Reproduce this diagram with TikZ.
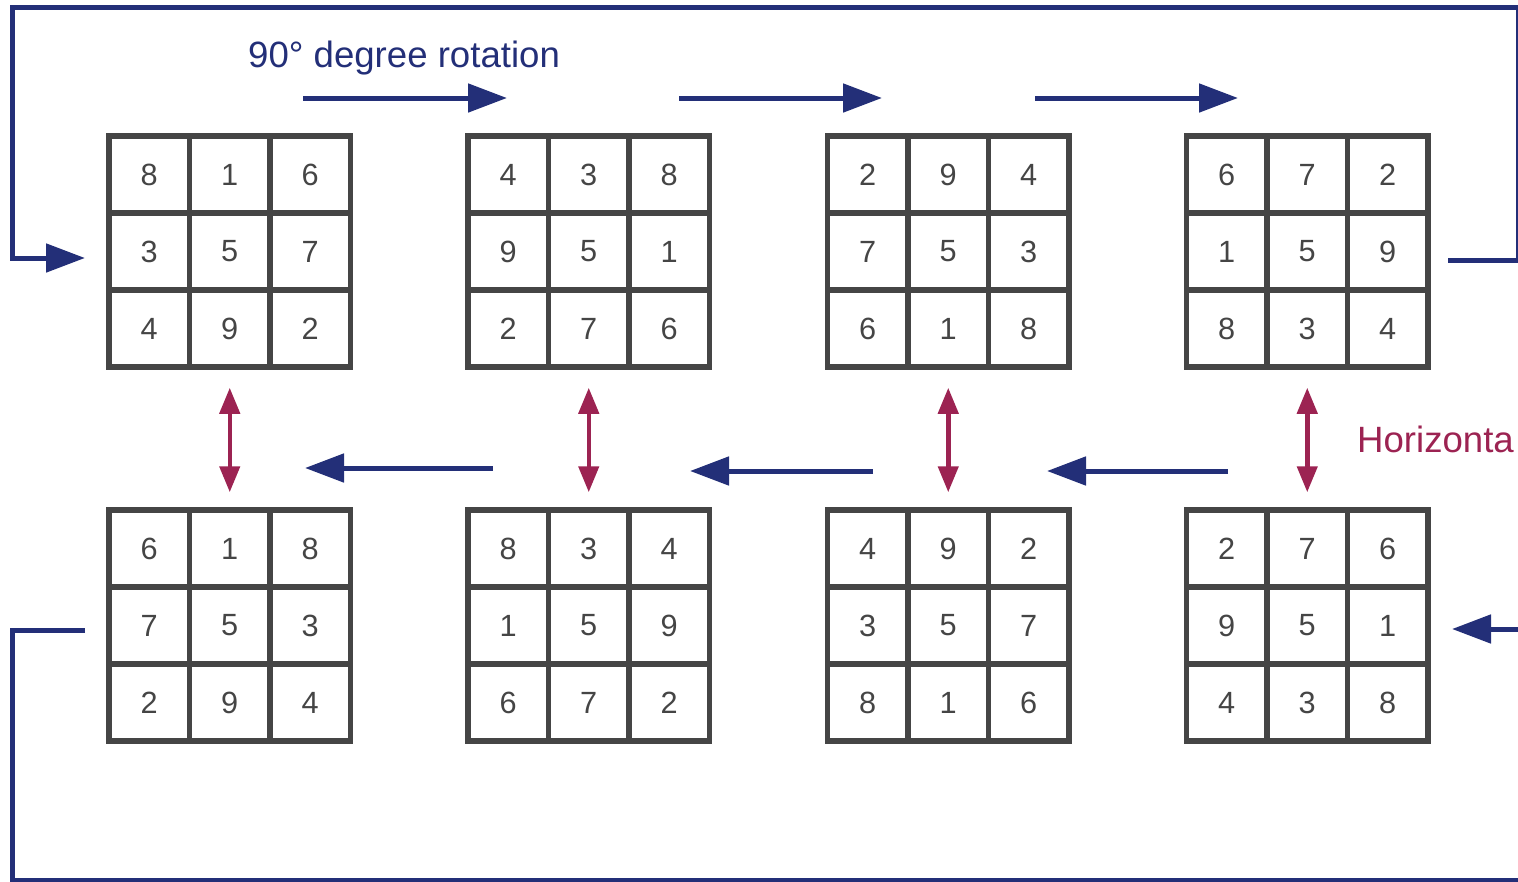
\documentclass[tikz,border=0pt]{standalone}
\usepackage{fontspec}
\setmainfont{Liberation Sans}
\usetikzlibrary{arrows.meta}
\definecolor{navy}{RGB}{35,47,120}
\definecolor{wine}{RGB}{156,35,82}
\definecolor{gridgray}{RGB}{69,69,69}
\tikzset{
  cell/.style={draw=gridgray, line width=5.5pt, minimum width=80.5pt, minimum height=77pt,
    inner sep=0pt, text=gridgray, font=\fontsize{30.7}{32}\selectfont},
  flow/.style={navy, line width=5pt, -{Triangle[length=39pt,width=28pt]}},
  frame/.style={navy, line width=5pt},
  flip/.style={wine, line width=4.5pt,
    {Triangle[length=26pt,width=20pt]}-{Triangle[length=26pt,width=20pt]}},
  lbl/.style={anchor=base west, inner sep=0pt, font=\fontsize{36.6}{40}\selectfont},
}
\newcommand{\magicsq}[4]{%
  \foreach \vi [count=\ki from 0] in {#4} {
    \pgfmathtruncatemacro{\gr}{div(\ki,3)}
    \pgfmathtruncatemacro{\gc}{mod(\ki,3)}
    \node[cell] (#1-\ki) at ({#2+40.25+80.5*\gc},{#3+38.5+77*\gr}) {\vi};
  }}
\begin{document}
\begin{tikzpicture}[x=1pt,y=-1pt]
\useasboundingbox (0,0) rectangle (1518,881);
\clip (0,0) rectangle (1518,881);

% squares, top row
\magicsq{t1}{109}{136}{8,1,6,3,5,7,4,9,2}
\magicsq{t2}{468}{136}{4,3,8,9,5,1,2,7,6}
\magicsq{t3}{827.5}{136}{2,9,4,7,5,3,6,1,8}
\magicsq{t4}{1186.5}{136}{6,7,2,1,5,9,8,3,4}
% squares, bottom row
\magicsq{b1}{109}{510}{6,1,8,7,5,3,2,9,4}
\magicsq{b2}{468}{510}{8,3,4,1,5,9,6,7,2}
\magicsq{b3}{827.5}{510}{4,9,2,3,5,7,8,1,6}
\magicsq{b4}{1186.5}{510}{2,7,6,9,5,1,4,3,8}

% labels
\node[lbl, text=navy] (title) at (248,67) {90° degree rotation};
\node[lbl, text=wine] (hlabel) at (1357,452) {Horizonta};

% rotation arrows, top row
\coordinate (a1s) at (303,98);  \coordinate (a1e) at (507,98);
\coordinate (a2s) at (679,98);  \coordinate (a2e) at (882,98);
\coordinate (a3s) at (1035,98); \coordinate (a3e) at (1238,98);
\draw[flow] (a1s) -- (a1e);
\draw[flow] (a2s) -- (a2e);
\draw[flow] (a3s) -- (a3e);

% rotation arrows, bottom row
\coordinate (c1s) at (493,468);  \coordinate (c1e) at (305,468);
\coordinate (c2s) at (873,471);  \coordinate (c2e) at (690,471);
\coordinate (c3s) at (1228,471); \coordinate (c3e) at (1047,471);
\draw[flow] (c1s) -- (c1e);
\draw[flow] (c2s) -- (c2e);
\draw[flow] (c3s) -- (c3e);

% flip arrows
\foreach \i in {1,2,3,4}{
  \draw[flip, shorten <=18pt, shorten >=15pt] (t\i-7.south) -- (b\i-1.north);
}

% frame loop, top
\coordinate (f1) at (1448,260);
\coordinate (f2) at (1518,260);
\coordinate (f3) at (1518,7);
\coordinate (f4) at (12.5,7);
\coordinate (f5) at (12.5,258);
\coordinate (f6) at (85,258);
\draw[frame, -{Triangle[length=39pt,width=28pt]}] (f1) -- (f2) -- (f3) -- (f4) -- (f5) -- (f6);

% frame loop, bottom
\coordinate (g1) at (85,630);
\coordinate (g2) at (12.5,630);
\coordinate (g3) at (12.5,880);
\coordinate (g4) at (1545,880);
\coordinate (g5) at (1545,629);
\coordinate (g6) at (1452,629);
\draw[frame, -{Triangle[length=39pt,width=28pt]}] (g1) -- (g2) -- (g3) -- (g4) -- (g5) -- (g6);
\end{tikzpicture}
\end{document}
